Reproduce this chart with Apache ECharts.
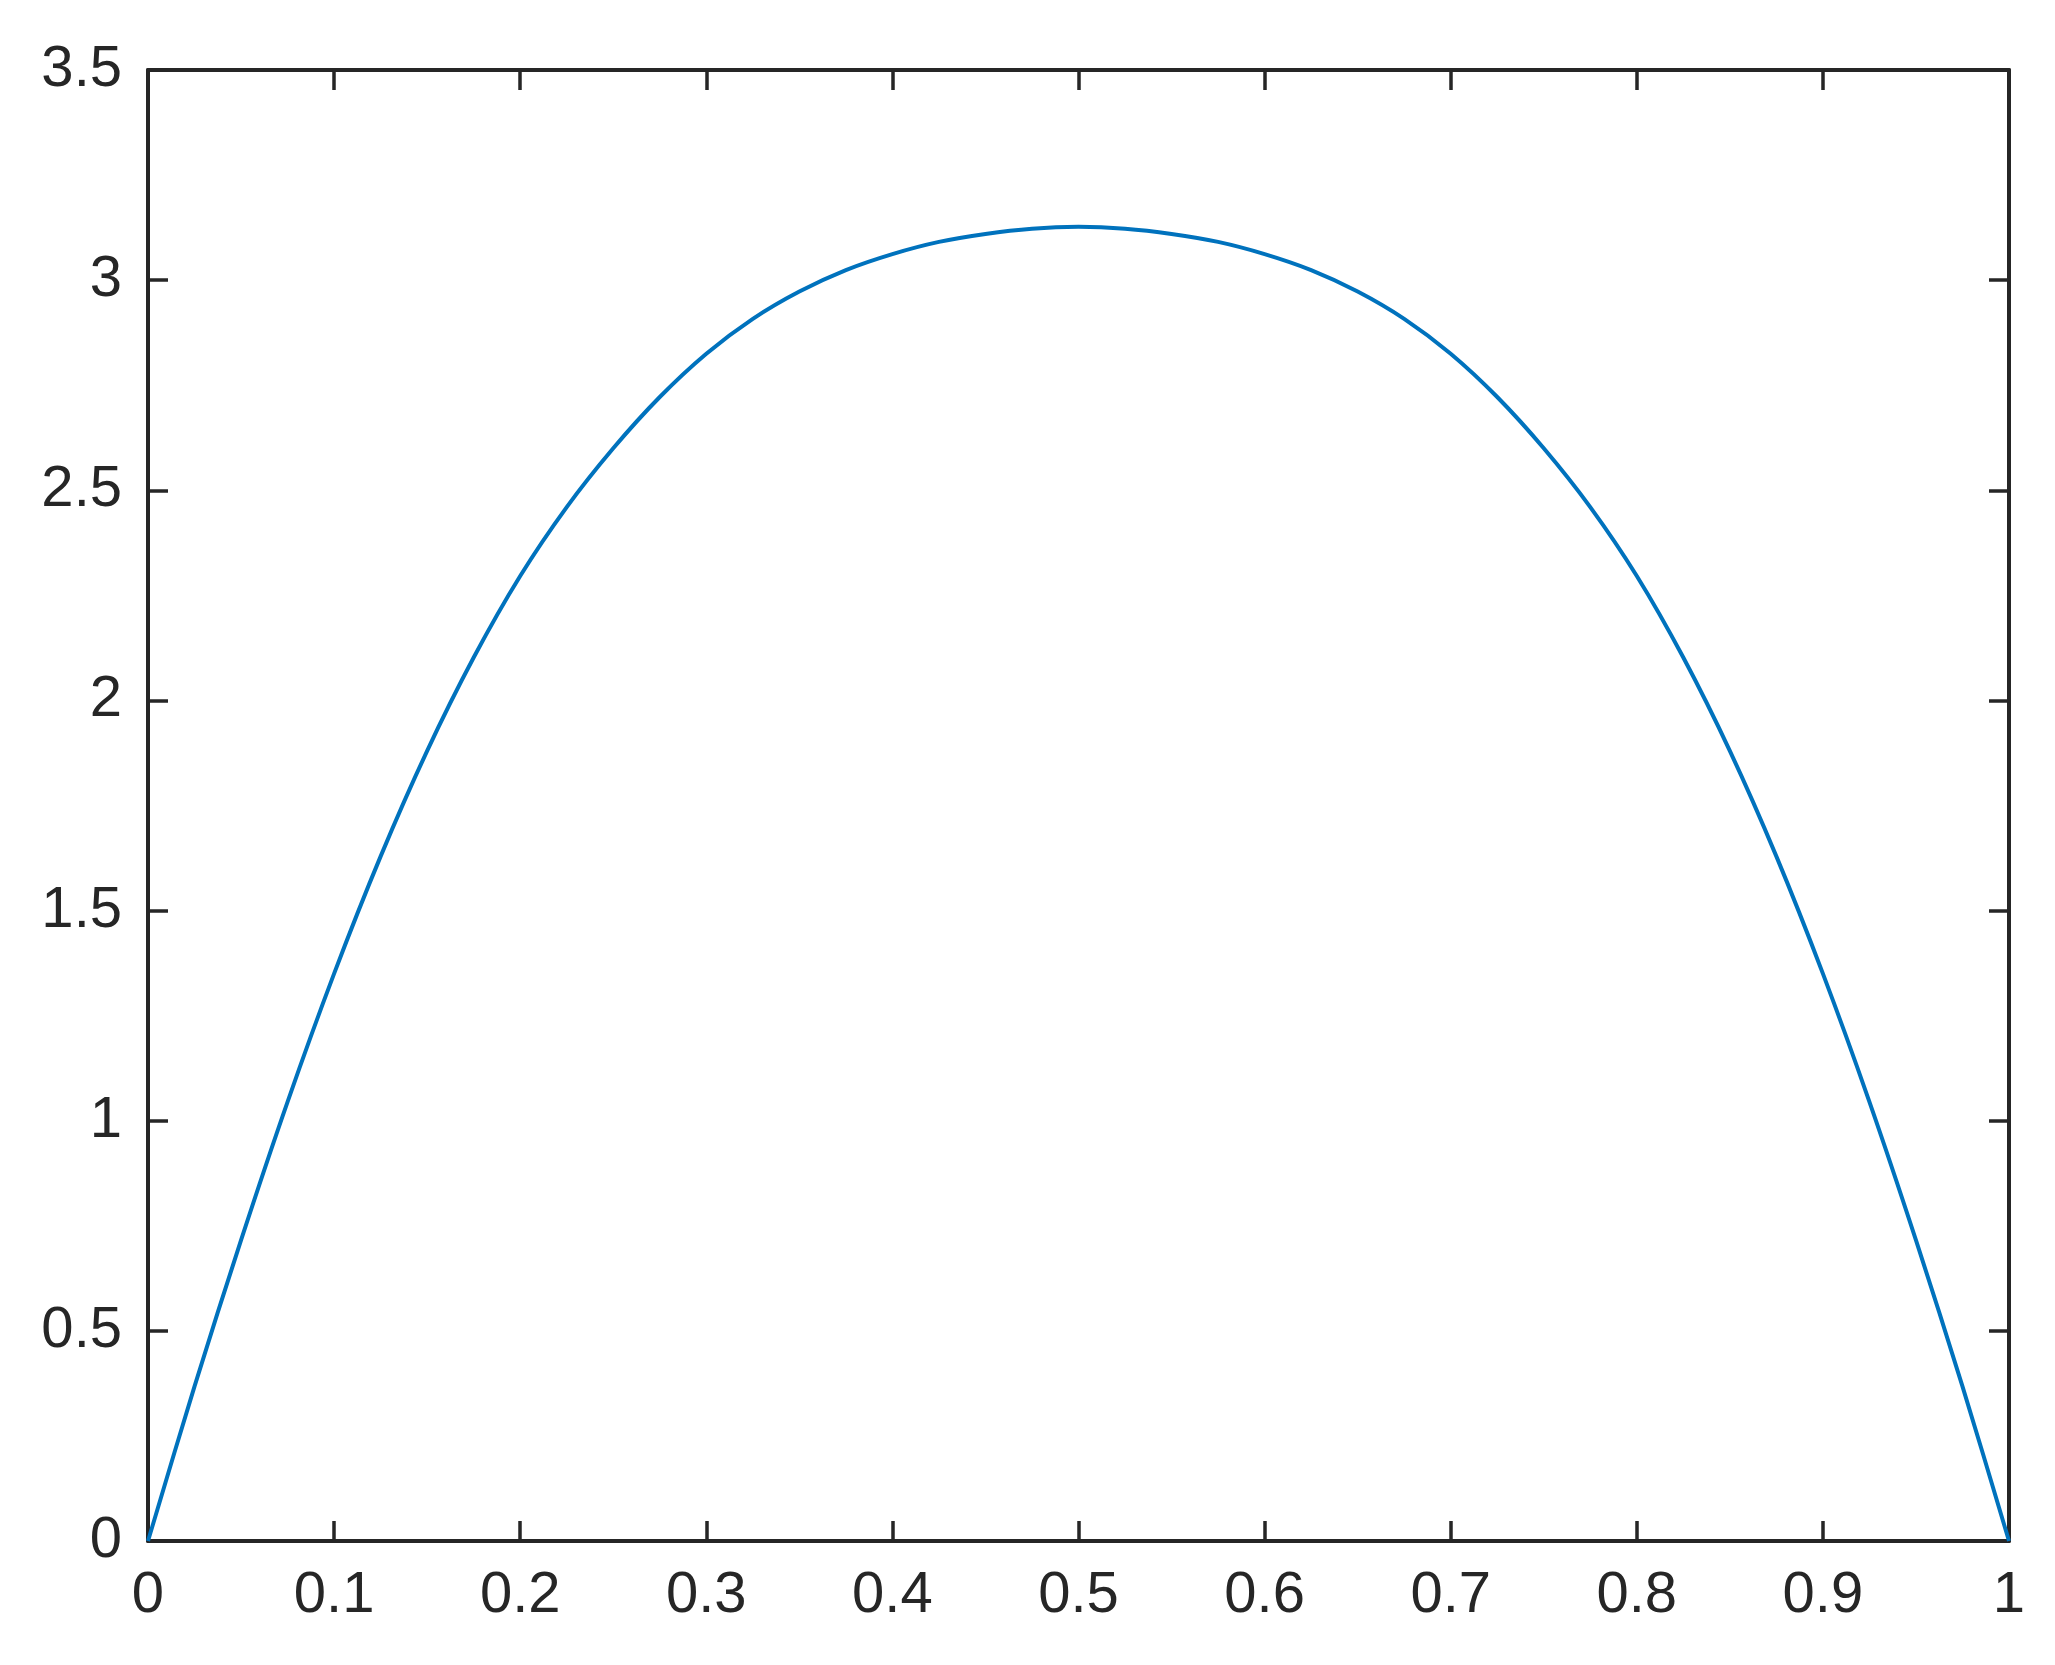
<!DOCTYPE html>
<html>
<head>
    <meta charset="utf-8">
    <title>curve</title>
    <script src="https://cdn.jsdelivr.net/npm/echarts@6/dist/echarts.min.js"></script>
</head>
<body style="margin:0;background:#fff">

<style>
	#chart {
		width: 2055px;
		height: 1665px;
	}
</style>

    <div id="chart"></div>

    <script type="text/javascript">
var xVals = [0, 0.025, 0.05, 0.075, 0.1, 0.125, 0.15, 0.175, 0.2, 0.225, 0.25, 0.275, 0.3, 0.325, 0.35,
             0.375, 0.4, 0.425, 0.45, 0.475, 0.5, 0.525, 0.55, 0.575, 0.6, 0.625, 0.65, 0.675, 0.7,
             0.725, 0.75, 0.775, 0.8, 0.825, 0.85, 0.875, 0.9, 0.925, 0.95, 0.975, 1];
var yVals = [0, 0.368, 0.716, 1.045, 1.35, 1.629, 1.88, 2.102, 2.296, 2.46, 2.6, 2.722, 2.825, 2.908, 2.973,
             3.024, 3.062, 3.091, 3.11, 3.1225, 3.127, 3.1225, 3.11, 3.091, 3.062, 3.024, 2.973, 2.908, 2.825,
             2.722, 2.6, 2.46, 2.296, 2.102, 1.88, 1.629, 1.35, 1.045, 0.716, 0.368, 0];
var xTicks = [0, 0.1, 0.2, 0.3, 0.4, 0.5, 0.6, 0.7, 0.8, 0.9, 1];
var yTicks = [0, 0.5, 1, 1.5, 2, 2.5, 3, 3.5];

var ink = '#262626';
var font = 'Liberation Sans, Arial, Helvetica, sans-serif';

var points = [];
for (var i = 0; i < xVals.length; i++) {
    points.push([xVals[i], yVals[i]]);
}

// axis helper: MATLAB style box, ticks pointing inward on all sides
function axis(pos, ticks, showLabel, margin) {
    return {
        type: 'value',
        position: pos,
        min: ticks[0],
        max: ticks[ticks.length - 1],
        interval: ticks[1] - ticks[0],
        axisLine: { show: true, onZero: false, lineStyle: { color: ink, width: 4 } },
        axisTick: { show: true, inside: true, length: 20, lineStyle: { color: ink, width: 3.5 } },
        axisLabel: { show: showLabel, color: ink, fontSize: 58, fontFamily: font, margin: margin },
        splitLine: { show: false }
    };
}

var chart = echarts.init(document.getElementById('chart'));
chart.setOption({
    animation: false,
    backgroundColor: '#fff',
    grid: { left: 148, right: 46, top: 70, bottom: 124, containLabel: false },
    xAxis: [axis('bottom', xTicks, true, 26), axis('top', xTicks, false, 8)],
    yAxis: [axis('left', yTicks, true, 26), axis('right', yTicks, false, 8)],
    series: [{
        type: 'line',
        data: points,
        smooth: 0.3,
        symbol: 'none',
        lineStyle: { color: '#0072BD', width: 4 }
    }]
});
    </script>
</body>
</html>
